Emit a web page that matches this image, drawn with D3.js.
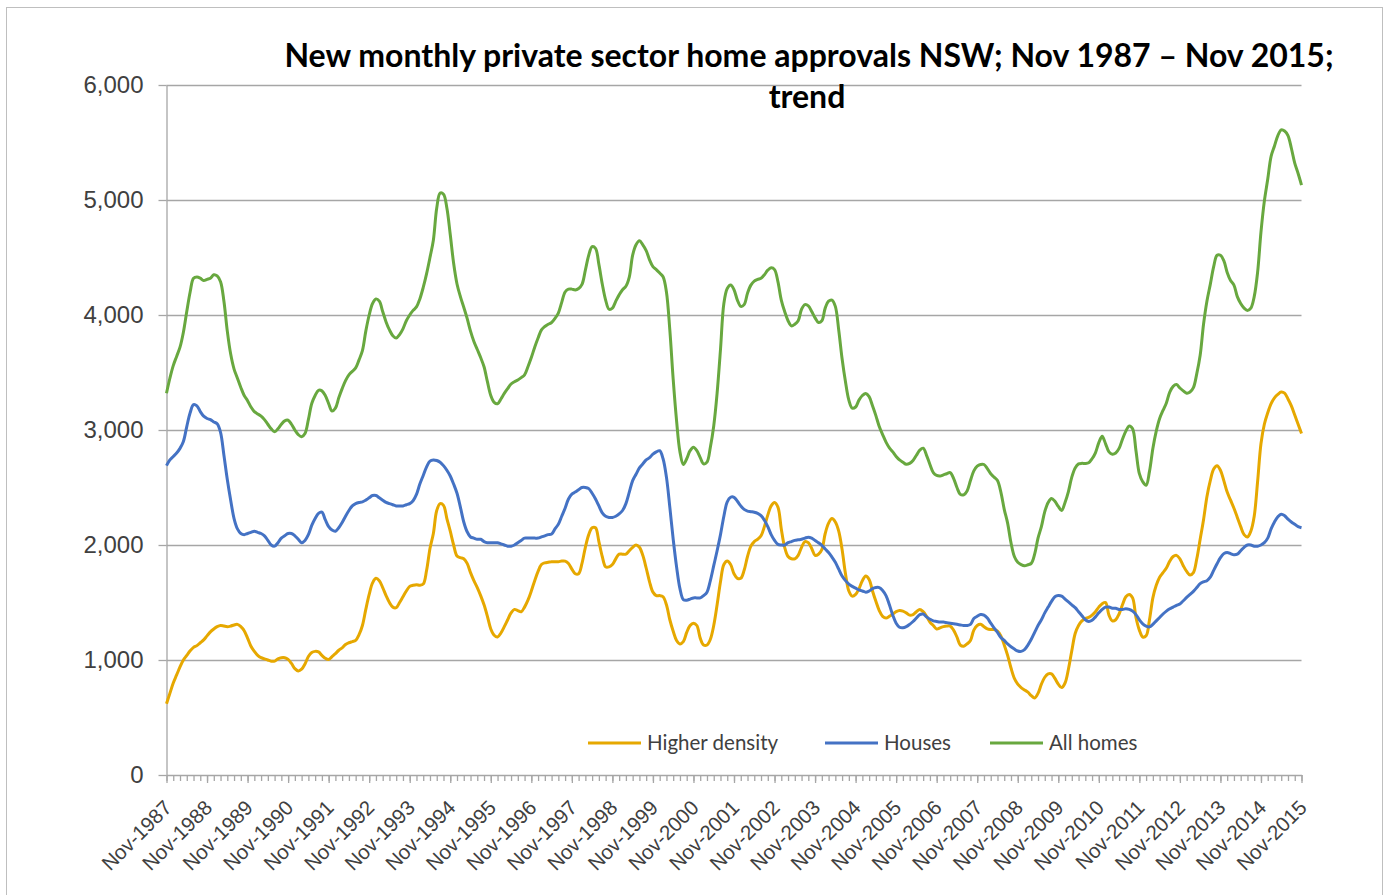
<!DOCTYPE html>
<html lang="en">
<head>
<meta charset="UTF-8">
<title>NSW home approvals</title>
<script src="https://cdn.jsdelivr.net/npm/d3@7"></script>
<style>
  body, html { margin: 0; padding: 0; background: #fff; }
  svg { display: block; font-family: Lato, "Open Sans", sans-serif; }
  .grid line { stroke: #a6a6a6; stroke-width: 1.3; }
  .grid path { display: none; }
  .axis path, .axis line { stroke: #a6a6a6; stroke-width: 1.3; }
  .axis text { fill: #404040; }
</style>
</head>
<body>
<svg id="chart" width="1387" height="895"></svg>
<script>
// Nov-1987 .. Nov-2015, one value per month (each row = 12 months from Nov)
const higherDensity = [
  620,710,800,870,940,1000,1040,1080,1110,1125,1150,1175,
  1210,1245,1270,1290,1300,1295,1290,1295,1305,1310,1290,1255,
  1190,1120,1075,1040,1020,1010,1000,990,990,1010,1020,1020,
  1005,970,925,905,920,965,1030,1065,1075,1070,1040,1015,
  1005,1030,1055,1085,1105,1135,1150,1160,1170,1220,1300,1440,
  1570,1670,1710,1690,1630,1560,1500,1460,1455,1500,1550,1600,
  1640,1650,1655,1650,1660,1780,1970,2100,2300,2360,2345,2230,
  2120,2000,1905,1890,1880,1840,1760,1690,1630,1560,1480,1380,
  1270,1215,1200,1235,1290,1350,1410,1440,1430,1420,1460,1520,
  1600,1690,1770,1830,1845,1850,1855,1855,1855,1860,1860,1840,
  1790,1750,1750,1840,1980,2090,2150,2150,2030,1900,1810,1810,
  1830,1880,1920,1920,1920,1950,1980,2000,1980,1910,1800,1680,
  1590,1560,1560,1550,1480,1350,1250,1170,1140,1160,1240,1300,
  1320,1300,1190,1130,1130,1180,1300,1480,1680,1830,1860,1830,
  1750,1710,1710,1780,1900,1990,2030,2050,2080,2160,2260,2340,
  2370,2330,2140,1980,1900,1880,1880,1910,1980,2030,2020,1970,
  1910,1920,1960,2100,2190,2230,2200,2120,1960,1750,1600,1555,
  1570,1620,1690,1730,1700,1600,1510,1430,1380,1365,1380,1400,
  1420,1430,1425,1410,1390,1395,1420,1440,1420,1380,1330,1300,
  1270,1280,1290,1295,1295,1260,1200,1130,1120,1140,1170,1260,
  1300,1310,1290,1270,1265,1265,1250,1210,1130,1040,930,840,
  790,760,740,720,690,670,710,790,850,880,880,840,
  790,760,800,920,1080,1230,1300,1340,1360,1370,1390,1420,
  1460,1490,1500,1390,1340,1350,1400,1480,1550,1570,1540,1370,
  1260,1200,1210,1350,1540,1650,1720,1760,1800,1860,1900,1910,
  1880,1820,1770,1740,1760,1880,2050,2220,2420,2560,2660,2690,
  2650,2560,2460,2390,2320,2240,2160,2090,2070,2120,2250,2550,
  2880,3050,3150,3230,3280,3310,3330,3320,3270,3210,3130,3050,
  2970
];

const houses = [
  2690,2740,2770,2800,2840,2900,3030,3150,3220,3210,3160,3120,
  3100,3090,3070,3055,2980,2780,2570,2390,2230,2140,2100,2090,
  2100,2110,2120,2110,2100,2080,2040,2000,1990,2020,2060,2080,
  2100,2100,2080,2050,2020,2040,2090,2170,2230,2275,2285,2220,
  2160,2130,2120,2150,2195,2250,2300,2340,2360,2370,2375,2390,
  2410,2430,2430,2410,2390,2370,2360,2350,2340,2340,2340,2350,
  2360,2385,2440,2530,2605,2680,2730,2740,2735,2720,2690,2650,
  2600,2530,2450,2330,2200,2115,2070,2060,2050,2050,2030,2020,
  2020,2020,2020,2010,2000,1990,1990,2000,2020,2040,2060,2060,
  2060,2060,2060,2070,2080,2090,2095,2140,2180,2250,2320,2400,
  2443,2460,2480,2500,2500,2490,2450,2400,2340,2280,2250,2240,
  2240,2250,2270,2300,2360,2460,2560,2615,2670,2705,2740,2760,
  2790,2810,2820,2750,2590,2330,2050,1810,1620,1525,1520,1530,
  1540,1540,1540,1560,1590,1690,1820,1950,2090,2250,2375,2415,
  2415,2380,2340,2310,2295,2290,2285,2275,2255,2215,2160,2090,
  2040,2005,2000,2000,2020,2030,2040,2045,2050,2060,2068,2060,
  2040,2020,1997,1965,1935,1895,1850,1790,1730,1690,1660,1640,
  1625,1610,1600,1590,1600,1620,1630,1630,1605,1560,1480,1390,
  1320,1285,1280,1290,1310,1335,1365,1395,1400,1375,1355,1340,
  1335,1330,1330,1325,1320,1315,1310,1305,1300,1300,1310,1360,
  1380,1395,1390,1365,1320,1280,1240,1195,1170,1140,1115,1095,
  1078,1075,1090,1130,1180,1240,1300,1350,1410,1460,1510,1550,
  1560,1555,1530,1505,1480,1455,1420,1385,1350,1335,1345,1375,
  1410,1440,1460,1460,1450,1450,1440,1440,1445,1440,1425,1395,
  1350,1315,1295,1288,1310,1340,1370,1400,1425,1445,1460,1475,
  1488,1515,1544,1570,1597,1630,1664,1680,1690,1720,1780,1837,
  1890,1925,1935,1925,1915,1920,1950,1980,2000,2000,1990,1990,
  2000,2020,2060,2140,2200,2245,2268,2255,2225,2200,2180,2160,
  2150
];

const allHomes = [
  3320,3450,3560,3640,3720,3850,4030,4200,4320,4330,4320,4300,
  4310,4320,4350,4340,4290,4120,3860,3660,3530,3450,3370,3300,
  3255,3200,3160,3140,3120,3090,3050,3010,2985,3010,3050,3080,
  3085,3050,3000,2960,2942,2970,3090,3230,3300,3345,3340,3300,
  3230,3165,3190,3280,3360,3430,3480,3510,3540,3610,3690,3860,
  4000,4100,4140,4120,4030,3940,3870,3820,3800,3830,3880,3950,
  4000,4040,4070,4140,4240,4360,4500,4650,4930,5060,5050,4930,
  4700,4450,4270,4160,4067,3970,3860,3770,3700,3630,3550,3420,
  3300,3240,3228,3270,3318,3360,3400,3420,3435,3455,3480,3550,
  3630,3720,3800,3870,3900,3920,3935,3970,4017,4110,4200,4225,
  4225,4218,4230,4266,4390,4520,4595,4580,4440,4270,4130,4050,
  4060,4120,4175,4220,4250,4330,4520,4610,4645,4610,4560,4480,
  4420,4395,4365,4333,4200,3870,3440,3080,2810,2700,2750,2820,
  2850,2820,2760,2705,2720,2850,3035,3320,3700,4100,4230,4260,
  4220,4130,4075,4090,4190,4260,4295,4310,4320,4350,4390,4410,
  4395,4290,4130,4030,3950,3905,3920,3950,4050,4090,4080,4030,
  3975,3935,3950,4060,4120,4130,4075,3870,3620,3420,3260,3190,
  3200,3260,3300,3318,3290,3210,3125,3030,2960,2895,2845,2810,
  2770,2740,2720,2702,2710,2735,2780,2825,2842,2780,2700,2630,
  2605,2600,2610,2620,2629,2580,2500,2440,2436,2470,2560,2645,
  2685,2700,2700,2665,2620,2590,2560,2460,2310,2190,2020,1900,
  1850,1830,1820,1828,1840,1920,2060,2160,2290,2370,2405,2380,
  2335,2300,2370,2465,2590,2670,2705,2710,2709,2715,2750,2802,
  2890,2945,2880,2810,2790,2800,2840,2920,2990,3035,3010,2820,
  2620,2550,2520,2640,2840,2990,3100,3170,3235,3330,3380,3395,
  3365,3340,3320,3330,3368,3490,3650,3920,4120,4266,4420,4520,
  4520,4473,4370,4300,4260,4160,4100,4060,4040,4060,4160,4370,
  4720,4990,5180,5380,5470,5560,5610,5600,5560,5450,5320,5230,
  5130
];

const tickLabels = [
  "Nov-1987","Nov-1988","Nov-1989","Nov-1990","Nov-1991","Nov-1992","Nov-1993",
  "Nov-1994","Nov-1995","Nov-1996","Nov-1997","Nov-1998","Nov-1999","Nov-2000",
  "Nov-2001","Nov-2002","Nov-2003","Nov-2004","Nov-2005","Nov-2006","Nov-2007",
  "Nov-2008","Nov-2009","Nov-2010","Nov-2011","Nov-2012","Nov-2013","Nov-2014",
  "Nov-2015"
];
const yTicks = [0, 1000, 2000, 3000, 4000, 5000, 6000];
const seriesNames = ["Higher density", "Houses", "All homes"];
const seriesColors = ["#e6a800", "#4472c4", "#68a83f"];

const svg = d3.select("#chart");

// chart frame
svg.append("rect")
  .attr("x", 6.5).attr("y", 7.5)
  .attr("width", 1376).attr("height", 900)
  .attr("fill", "#fff").attr("stroke", "#bfbfbf");

const plotLeft = 166.5, plotRight = 1301.5, plotTop = 85, plotBottom = 775;
const n = allHomes.length;

const x = d3.scaleLinear().domain([0, n - 1]).range([plotLeft, plotRight]);
const y = d3.scaleLinear().domain([0, 6000]).range([plotBottom, plotTop]);

// gridlines
svg.append("g")
  .attr("class", "grid")
  .attr("transform", `translate(${plotLeft},0)`)
  .call(d3.axisLeft(y).tickValues(yTicks.slice(1)).tickSize(-(plotRight - plotLeft)).tickFormat(""));

// y axis
const yAxis = svg.append("g")
  .attr("class", "axis")
  .attr("transform", `translate(${plotLeft},0)`)
  .call(d3.axisLeft(y).tickValues(yTicks).tickSize(8).tickSizeOuter(0).tickPadding(15).tickFormat(d3.format(",")));
yAxis.selectAll("text").style("font-size", "24px");

// x axis: minor ticks every 2 months
svg.append("g")
  .attr("class", "axis")
  .attr("transform", `translate(0,${plotBottom})`)
  .call(d3.axisBottom(x).tickValues(d3.range(0, n, 2)).tickSize(6).tickSizeOuter(0).tickFormat(""));

// x axis: yearly ticks with labels
const xAxis = svg.append("g")
  .attr("class", "axis")
  .attr("transform", `translate(0,${plotBottom})`)
  .call(d3.axisBottom(x).tickValues(d3.range(0, n, 12)).tickSize(8).tickSizeOuter(0)
    .tickFormat((d, i) => tickLabels[i]));
xAxis.select(".domain").remove();
xAxis.selectAll("text")
  .style("font-size", "20.5px")
  .attr("text-anchor", "end")
  .attr("dy", null)
  .attr("y", 0)
  .attr("transform", "translate(6,34) rotate(-45)");

// lines
const line = d3.line()
  .x((d, i) => x(i))
  .y(d => y(d))
  .curve(d3.curveCatmullRom.alpha(0.5));

[higherDensity, houses, allHomes].forEach((s, k) => {
  svg.append("path")
    .datum(s)
    .attr("fill", "none")
    .attr("stroke", seriesColors[k])
    .attr("stroke-width", 3)
    .attr("stroke-linejoin", "round")
    .attr("d", line);
});

// title
const title = svg.append("text")
  .attr("x", 809).attr("y", 67)
  .attr("text-anchor", "middle")
  .style("font-size", "32px").style("font-weight", "bold").attr("fill", "#000");
title.append("tspan").attr("x", 809).text("New monthly private sector home approvals NSW; Nov 1987 \u2013 Nov 2015;");
title.append("tspan").attr("x", 807).attr("dy", 41).text("trend");

// legend
const legendX = [588, 825, 990];
const legend = svg.append("g");
seriesNames.forEach((name, k) => {
  legend.append("line")
    .attr("x1", legendX[k]).attr("x2", legendX[k] + 53)
    .attr("y1", 743).attr("y2", 743)
    .attr("stroke", seriesColors[k]).attr("stroke-width", 3);
  legend.append("text")
    .attr("x", legendX[k] + 59).attr("y", 743).attr("dy", "0.35em")
    .style("font-size", "20.5px").attr("fill", "#404040")
    .text(name);
});
</script>
</body>
</html>
